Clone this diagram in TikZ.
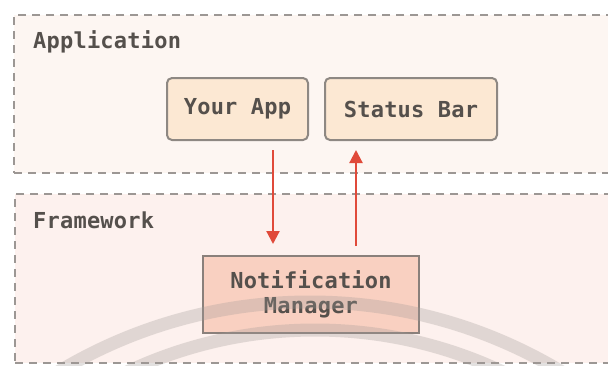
\documentclass[tikz,border=0pt]{standalone}
\usepackage{fontspec}
\newfontfamily\monob[LetterSpace=1]{DejaVu Sans Mono Bold}
\usetikzlibrary{arrows.meta,calc}
\definecolor{appbg}{HTML}{FDF6F2}
\definecolor{fwbg}{HTML}{FDF1EE}
\definecolor{dashgray}{HTML}{9C9794}
\definecolor{txtgray}{HTML}{55504C}
\definecolor{boxfill}{HTML}{FCE8D3}
\definecolor{boxline}{HTML}{8E8883}
\definecolor{nmfill}{HTML}{F9D0C1}
\definecolor{nmline}{HTML}{8A807B}
\definecolor{arrred}{HTML}{E04A3A}
\definecolor{wmgray}{HTML}{A09A96}
\tikzset{
  container/.style={draw=dashgray, line width=2pt, dash pattern=on 8pt off 6pt, anchor=north west, inner sep=0pt},
  contlabel/.style={anchor=west, text=txtgray, font=\monob\fontsize{22}{25}\selectfont, inner sep=0pt},
  appbox/.style={draw=boxline, fill=boxfill, line width=2pt, rounded corners=5pt, minimum width=#1, minimum height=62pt, text=txtgray, font=\monob\fontsize{22}{25}\selectfont, inner sep=0pt},
  nmbox/.style={draw=nmline, fill=nmfill, line width=2pt, minimum width=216pt, minimum height=77pt, text=txtgray, font=\monob\fontsize{22}{25}\selectfont, align=center, inner sep=0pt},
  arr/.style={draw=arrred, line width=2.2pt, -{Triangle[width=13pt,length=13pt]}},
  wm/.style={draw=wmgray, line width=13pt, opacity=0.3},
}
\begin{document}
\begin{tikzpicture}[x=1pt,y=-1pt]
\useasboundingbox (0,0) rectangle (608,365);
\clip (0,0) rectangle (608,365);
\fill[white] (0,0) rectangle (608,365);
\node[container, fill=appbg, minimum width=620pt, minimum height=158pt] (app) at (13,14) {};
\node[container, fill=fwbg, minimum width=620pt, minimum height=169pt] (fw) at (14,193) {};
\node[contlabel] (applbl) at (33,42) {Application};
\node[contlabel] (fwlbl) at (33,220) {Framework};
\node[appbox=141pt] (yourapp) at (237.5,109) {Your App};
\node[appbox=172pt] (status) at (411,109) {Status Bar};
\node[nmbox] (notif) at (311,294.5) {Notification\\Manager};
\coordinate (dx) at (273,0);
\coordinate (ux) at (356,0);
\draw[arr] ($(yourapp.south -| dx)+(0,9)$) -- ($(notif.north -| dx)+(0,-11)$);
\draw[arr] ($(notif.north -| ux)+(0,-9)$) -- ($(status.south -| ux)+(0,9)$);
\draw[wm] (310,790) circle[radius=488];
\draw[wm] (315,770) circle[radius=440];
\end{tikzpicture}
\end{document}
